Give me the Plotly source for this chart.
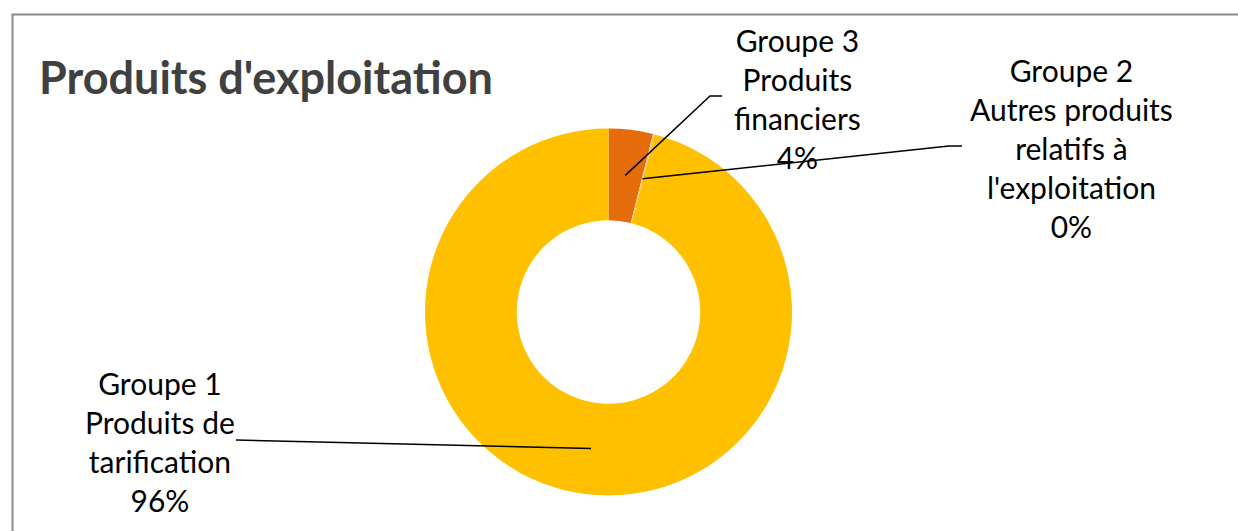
import math
import plotly.graph_objects as go

# slice data, in drawing order (clockwise from 12 o'clock)
groups = ["Groupe 3", "Groupe 2", "Groupe 1"]
names = ["Produits financiers", "Autres produits relatifs à l'exploitation", "Produits de tarification"]
label_lines = [
    ["Groupe 3", "Produits", "financiers"],
    ["Groupe 2", "Autres produits", "relatifs à", "l'exploitation"],
    ["Groupe 1", "Produits de", "tarification"],
]
shares = [3.9, 0.15, 95.95]
colors = ["#E46C0A", "#F6C99A", "#FFC000"]

# page geometry (body margin removed in post_script below)
W, H, OFF = 1238, 531, 0
CX, CY = 608.5, 312.0
R_OUT, HOLE = 183.5, 0.5
R_MID = R_OUT * (1 + HOLE) / 2

# where each text block sits and where its leader line bends
label_pos = [(797, 98), (1071, 148), (160, 441)]
elbows = [[(710, 96), (722, 96)], [(949, 146), (962, 146)], [(236, 440)]]


def px(x):
    return (x - OFF) / W


def py(y):
    return 1 - (y - OFF) / H


fig = go.Figure(
    go.Pie(
        labels=[f"{g} {n}" for g, n in zip(groups, names)],
        values=shares,
        hole=HOLE,
        sort=False,
        direction="clockwise",
        marker=dict(colors=colors, line=dict(width=0)),
        textinfo="none",
        hoverinfo="label+percent",
        domain=dict(x=[px(CX - R_OUT), px(CX + R_OUT)], y=[py(CY + R_OUT), py(CY - R_OUT)]),
        showlegend=False,
    )
)

total = sum(shares)
cum = 0
# chart frame: only its left and top edges are inside the window
frame = f"M {px(12.5)},{py(600)} L {px(12.5)},{py(14.5)} L {px(1300)},{py(14.5)}"
shapes = [
    dict(type="path", path=frame, xref="paper", yref="paper",
         line=dict(color="#8C8C8C", width=2), layer="below")
]
annotations = [
    dict(text="<b>Produits d'exploitation</b>", x=px(37), y=py(77), xref="paper", yref="paper",
         xanchor="left", yanchor="middle", showarrow=False,
         font=dict(family="Lato", size=45, color="#404040"))
]
for lines, v, pos, bend in zip(label_lines, shares, label_pos, elbows):
    mid = (cum + v / 2) / total * 2 * math.pi
    cum += v
    ax = CX + R_MID * math.sin(mid)
    ay = CY - R_MID * math.cos(mid)
    pts = [(ax, ay)] + bend
    path = "M " + " L ".join(f"{px(x)},{py(y)}" for x, y in pts)
    shapes.append(dict(type="path", path=path, xref="paper", yref="paper",
                       line=dict(color="black", width=1.5)))
    text = "<br>".join(lines + [f"{round(v / total * 100)}%"])
    annotations.append(dict(text=text, x=px(pos[0]), y=py(pos[1]), xref="paper", yref="paper",
                            xanchor="center", yanchor="middle", align="center", showarrow=False,
                            font=dict(family="Lato", size=30, color="black")))

fig.update_layout(
    width=W,
    height=H,
    margin=dict(l=0, r=0, t=0, b=0),
    paper_bgcolor="white",
    shapes=shapes,
    annotations=annotations,
)
fig.write_html(
    "out.html",
    config={"displayModeBar": False},
    post_script="document.body.style.margin='0';document.body.style.overflow='hidden';",
)
